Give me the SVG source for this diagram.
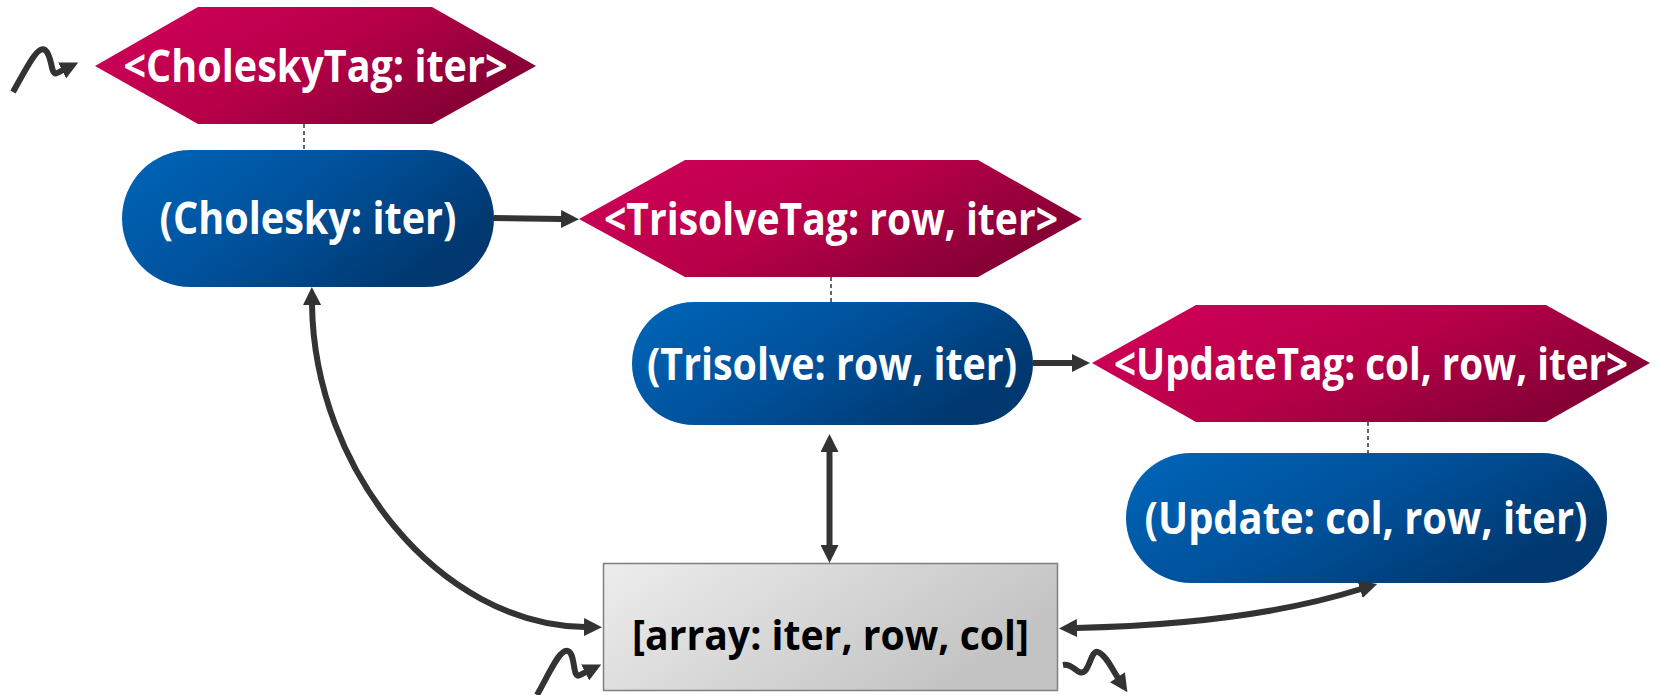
<svg xmlns="http://www.w3.org/2000/svg" width="1655" height="695" viewBox="0 0 1655 695">
  <defs>
    <linearGradient id="tagFill" x1="0" y1="0" x2="1" y2="0.5">
      <stop offset="0" stop-color="#D3005B"/>
      <stop offset="0.55" stop-color="#B80049"/>
      <stop offset="1" stop-color="#860035"/>
    </linearGradient>
    <linearGradient id="stepFill" x1="0" y1="0" x2="1" y2="0.5">
      <stop offset="0" stop-color="#0066B9"/>
      <stop offset="0.55" stop-color="#00509A"/>
      <stop offset="1" stop-color="#00386F"/>
    </linearGradient>
    <linearGradient id="itemFill" x1="0" y1="0" x2="1" y2="0.4">
      <stop offset="0" stop-color="#EDEDED"/>
      <stop offset="1" stop-color="#C3C3C3"/>
    </linearGradient>
    <marker id="arrow" markerUnits="userSpaceOnUse" markerWidth="18" markerHeight="18" viewBox="0 0 18 18" refX="1" refY="9" orient="auto-start-reverse">
      <path d="M0,0 L18,9 L0,18 z" fill="#333333"/>
    </marker>
    <style>
      .tag { fill: url(#tagFill); }
      .step { fill: url(#stepFill); }
      .item { fill: url(#itemFill); stroke: #7F7F7F; stroke-width: 1.5; }
      .label { font-family: "Open Sans", "Liberation Sans", sans-serif; font-weight: bold; font-size: 45px; fill: #FFFFFF; text-anchor: middle; }
      .itemLabel { font-family: "Open Sans", "Liberation Sans", sans-serif; font-weight: bold; font-size: 42px; fill: #000000; text-anchor: middle; }
      .link { fill: none; stroke: #333333; stroke-width: 6; }
      .arrowed { marker-end: url(#arrow); }
      .both { marker-start: url(#arrow); marker-end: url(#arrow); }
      .prescribe { fill: none; stroke: #333333; stroke-width: 1.5; stroke-dasharray: 4 3; }
    </style>
  </defs>

  <!-- tag-to-step prescription lines -->
  <g id="prescriptions">
    <line class="prescribe" x1="304" y1="124" x2="304" y2="150"/>
    <line class="prescribe" x1="831" y1="277" x2="831" y2="302"/>
    <line class="prescribe" x1="1368" y1="422" x2="1368" y2="453"/>
  </g>

  <g id="cholesky-tag">
    <polygon class="tag" points="95,66 198,7 432,7 536,66 432,124 198,124"/>
    <text class="label" x="315.5" y="82" textLength="384" lengthAdjust="spacingAndGlyphs">&lt;CholeskyTag: iter&gt;</text>
  </g>

  <g id="cholesky-step">
    <rect class="step" x="122" y="150" width="372" height="137" rx="68.5"/>
    <text class="label" x="308" y="234" textLength="297" lengthAdjust="spacingAndGlyphs">(Cholesky: iter)</text>
  </g>

  <g id="trisolve-tag">
    <polygon class="tag" points="579,219 685,160 978,160 1082,219 978,277 685,277"/>
    <text class="label" x="831" y="235" textLength="454" lengthAdjust="spacingAndGlyphs">&lt;TrisolveTag: row, iter&gt;</text>
  </g>

  <g id="trisolve-step">
    <rect class="step" x="632" y="302" width="401" height="123" rx="61.5"/>
    <text class="label" x="832" y="379.5" textLength="370" lengthAdjust="spacingAndGlyphs">(Trisolve: row, iter)</text>
  </g>

  <g id="update-tag">
    <polygon class="tag" points="1092,363 1196,305 1546,305 1650,363 1546,422 1196,422"/>
    <text class="label" x="1371" y="379.5" textLength="514" lengthAdjust="spacingAndGlyphs">&lt;UpdateTag: col, row, iter&gt;</text>
  </g>

  <g id="update-step">
    <rect class="step" x="1126" y="453" width="481" height="130" rx="65"/>
    <text class="label" x="1366" y="533.5" textLength="443" lengthAdjust="spacingAndGlyphs">(Update: col, row, iter)</text>
  </g>

  <g id="array-item">
    <rect class="item" x="603.5" y="563.5" width="454" height="127"/>
    <text class="itemLabel" x="830.5" y="650" textLength="397" lengthAdjust="spacingAndGlyphs">[array: iter, row, col]</text>
  </g>

  <g id="connectors">
    <!-- control flow: step puts tags -->
    <path class="link arrowed" d="M494,218 L562,219"/>
    <path class="link arrowed" d="M1033,363 L1073,363"/>
    <!-- data access: steps get/put array items -->
    <path class="link both" d="M312,304 C314,470 440,625 585,627"/>
    <path class="link both" d="M829.5,451 L829.5,546"/>
    <path class="link both" d="M1076,628 Q1250,624 1361,589"/>
    <!-- environment in/out -->
    <path class="link arrowed" d="M13,92 C28,65 38,45 45,50 C53,56 50,76 57,73 C60,72 61,71 63,70"/>
    <path class="link arrowed" d="M537,695 C550,672 560,648 568,651 C576,654 572,680 580,675 C582,674 584,673 586,672"/>
    <path class="link arrowed" d="M1063,665 C1074,663 1078,677 1085,671 C1090,666 1092,650 1098,652 C1106,655 1112,669 1118,678"/>
  </g>
</svg>
